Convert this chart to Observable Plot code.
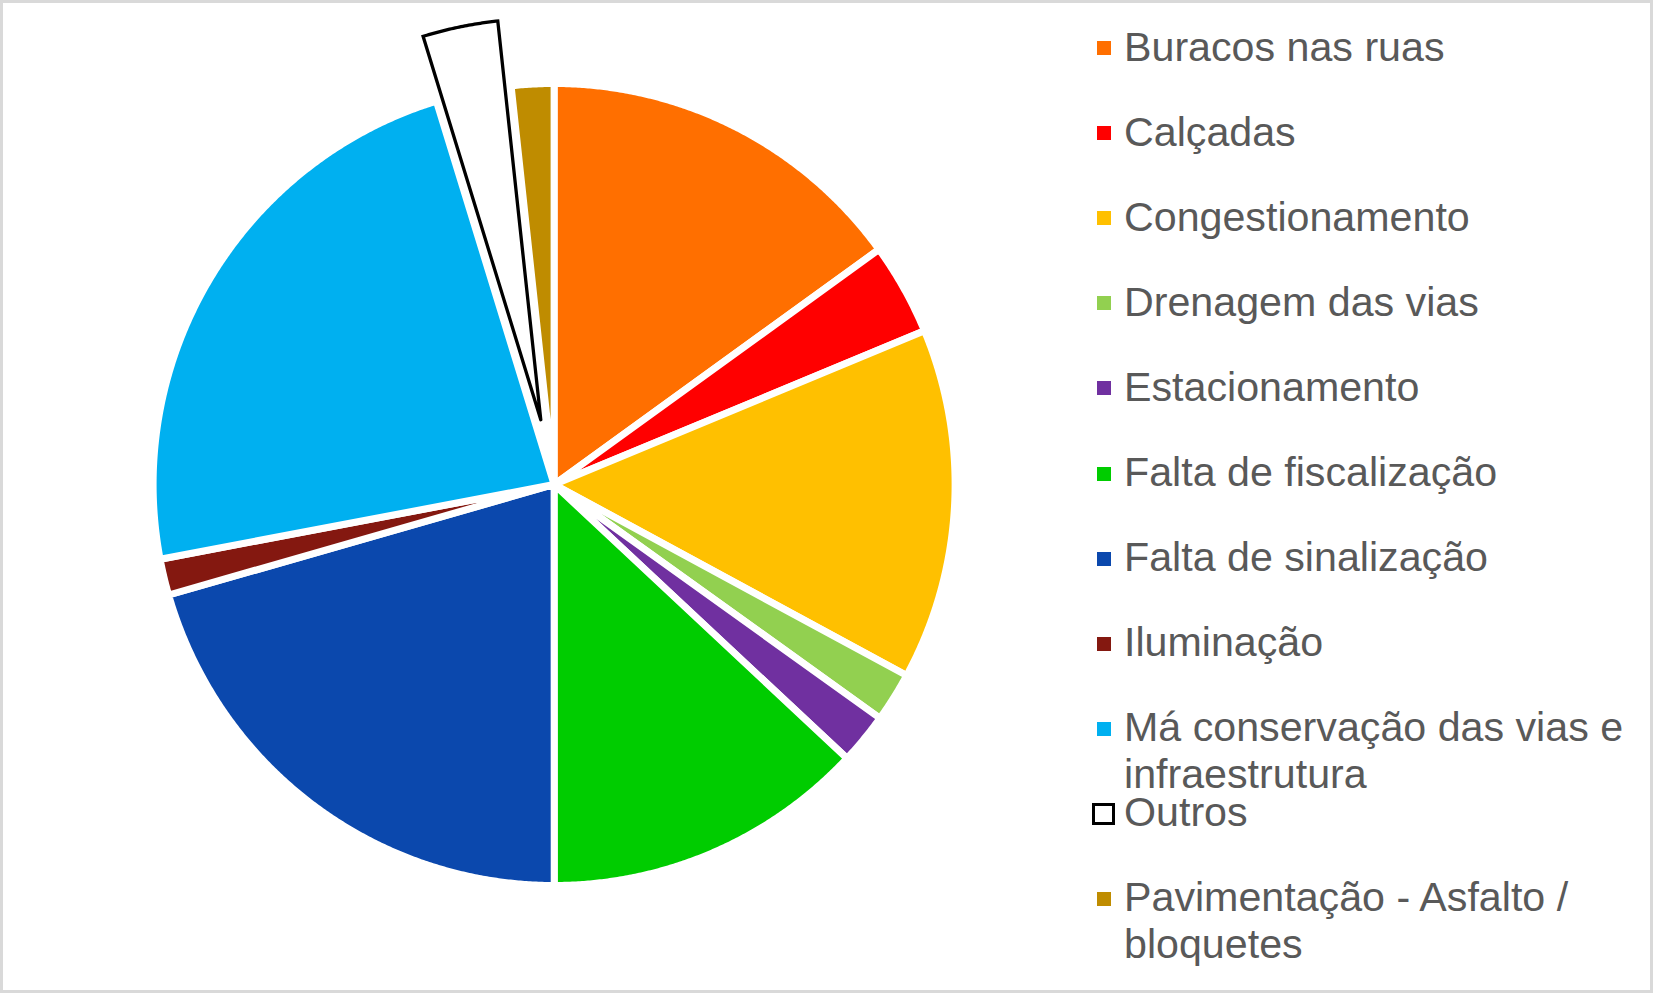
<!DOCTYPE html>
<html>
<head>
<meta charset="utf-8">
<script src="https://cdn.jsdelivr.net/npm/d3@7"></script>
<script src="https://cdn.jsdelivr.net/npm/@observablehq/plot@0.6"></script>
<style>
  html, body { margin: 0; padding: 0; background: #fff; overflow: hidden; }
  #wrap { position: relative; width: 1653px; height: 993px; font-family: "Liberation Sans", Arial, sans-serif; }
  #frame { position: absolute; left: 0; top: 0; width: 1653px; height: 993px; box-sizing: border-box; border: 3px solid #d9d9d9; pointer-events: none; }
  #chart { position: absolute; left: 0; top: 0; }
  .item { position: absolute; left: 1124px; width: 522px; font-size: 41.2px; line-height: 47px; color: #595959; white-space: normal; }
  .sw { position: absolute; box-sizing: border-box; }
</style>
</head>
<body>
<div id="wrap">
  <div id="chart"></div>
  <div id="legend"></div>
  <div id="frame"></div>
</div>
<script>
// ---- data ----
const categories = [
  "Buracos nas ruas",
  "Calçadas",
  "Congestionamento",
  "Drenagem das vias",
  "Estacionamento",
  "Falta de fiscalização",
  "Falta de sinalização",
  "Iluminação",
  "Má conservação das vias e infraestrutura",
  "Outros",
  "Pavimentação - Asfalto / bloquetes"
];
const values = [15.03, 3.71, 14.16, 2.00, 2.06, 13.03, 20.56, 1.46, 23.24, 3.03, 1.71];
const colors = ["#ff6f00", "#ff0000", "#ffc000", "#92d050", "#7030a0", "#00cc00", "#0b48ad", "#841810", "#00b0f0", "#ffffff", "#bf8c00"];
const explodedCategory = "Outros";

// ---- layout config ----
const W = 1653, H = 993;
const cx = 553.6, cy = 484, R = 401;
const explodeFrac = 0.165;

const rows = categories.map((name, i) => ({name, value: values[i]}));
const arcs = d3.pie().sort(null).value(d => d.value)(rows);

const pts = [];
for (const a of arcs) {
  const name = a.data.name;
  const off = name === explodedCategory ? explodeFrac : 0;
  const mid = (a.startAngle + a.endAngle) / 2;
  const ox = off * Math.sin(mid), oy = off * Math.cos(mid);
  const n = Math.max(4, Math.ceil((a.endAngle - a.startAngle) / 0.005));
  pts.push({name, x: ox, y: oy});
  for (let k = 0; k <= n; k++) {
    const t = a.startAngle + (a.endAngle - a.startAngle) * k / n;
    pts.push({name, x: ox + Math.sin(t), y: oy + Math.cos(t)});
  }
  pts.push({name, x: ox, y: oy});
}

const chart = Plot.plot({
  width: W,
  height: H,
  margin: 0,
  x: {domain: [-1, 1], range: [cx - R, cx + R], axis: null},
  y: {domain: [-1, 1], range: [cy + R, cy - R], axis: null},
  color: {domain: categories, range: colors},
  style: {background: "transparent"},
  marks: [
    Plot.line(pts.filter(d => d.name !== explodedCategory), {
      x: "x", y: "y", z: "name", fill: "name",
      stroke: "white", strokeWidth: 7, strokeLinejoin: "round", curve: "linear"
    }),
    Plot.line(pts.filter(d => d.name === explodedCategory), {
      x: "x", y: "y", z: "name", fill: "name",
      stroke: "black", strokeWidth: 3.3, strokeLinejoin: "miter", strokeMiterlimit: 4, curve: "linear"
    })
  ]
});
document.getElementById("chart").appendChild(chart);

// ---- legend ----
const legend = document.getElementById("legend");
const top0 = 23.8, step = 85.06;
categories.forEach((name, i) => {
  const top = top0 + i * step;
  const sw = document.createElement("div");
  sw.className = "sw";
  if (name === explodedCategory) {
    sw.style.left = "1092px";
    sw.style.top = (top + 13.4) + "px";
    sw.style.width = "23px";
    sw.style.height = "22px";
    sw.style.border = "3px solid #000";
    sw.style.background = colors[i];
  } else {
    sw.style.left = "1097px";
    sw.style.top = (top + 17.4) + "px";
    sw.style.width = "14px";
    sw.style.height = "14px";
    sw.style.background = colors[i];
  }
  legend.appendChild(sw);
  const t = document.createElement("div");
  t.className = "item";
  t.style.top = top + "px";
  t.textContent = name;
  legend.appendChild(t);
});
</script>
</body>
</html>
